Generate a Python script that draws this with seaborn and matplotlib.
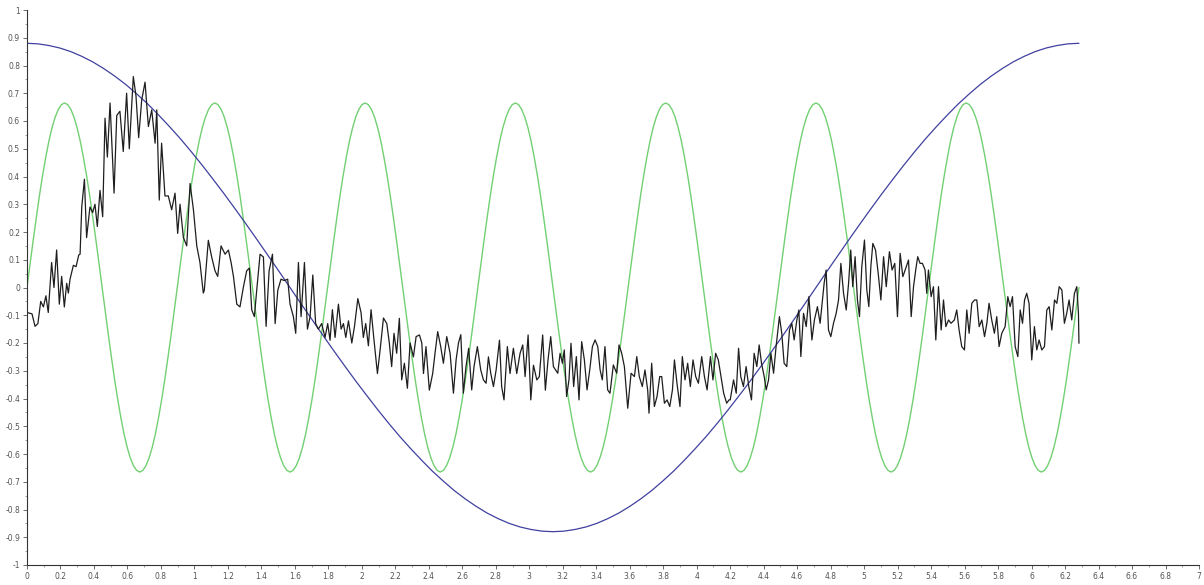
import numpy as np
import pandas as pd
import matplotlib
matplotlib.use("Agg")
import matplotlib.pyplot as plt
from matplotlib.ticker import MultipleLocator, FuncFormatter
import seaborn as sns

# ---------------- data ----------------
x_end = 6.283  # right end of all three curves

# blue curve, 97 samples evenly spaced from 0 to x_end
blue_y = [
    0.880, 0.878, 0.872, 0.863, 0.850, 0.833, 0.813, 0.789, 0.762, 0.732, 0.698, 0.662,
    0.622, 0.580, 0.536, 0.489, 0.440, 0.389, 0.337, 0.283, 0.228, 0.172, 0.115, 0.058, 0.0,
    -0.058, -0.115, -0.172, -0.228, -0.283, -0.337, -0.389, -0.440, -0.489, -0.536, -0.580, -0.622,
    -0.662, -0.698, -0.732, -0.762, -0.789, -0.813, -0.833, -0.850, -0.863, -0.872, -0.878, -0.880,
    -0.878, -0.872, -0.863, -0.850, -0.833, -0.813, -0.789, -0.762, -0.732, -0.698, -0.662, -0.622,
    -0.580, -0.536, -0.489, -0.440, -0.389, -0.337, -0.283, -0.228, -0.172, -0.115, -0.058, 0.0,
    0.058, 0.115, 0.172, 0.228, 0.283, 0.337, 0.389, 0.440, 0.489, 0.536, 0.580, 0.622,
    0.662, 0.698, 0.732, 0.762, 0.789, 0.813, 0.833, 0.850, 0.863, 0.872, 0.878, 0.880]

# green curve, 337 samples evenly spaced from 0 to x_end (7 peaks, 7 troughs)
green_y = [
    0, .087, .172, .254, .333, .405, .470, .528, .576, .614, .642, .659, .665, .659, .642, .614, .576, .528, .470, .405, .333, .254, .172, .087,
    0, -.087, -.172, -.254, -.333, -.405, -.470, -.528, -.576, -.614, -.642, -.659, -.665, -.659, -.642, -.614, -.576, -.528, -.470, -.405, -.333, -.254, -.172, -.087,
    0, .087, .172, .254, .333, .405, .470, .528, .576, .614, .642, .659, .665, .659, .642, .614, .576, .528, .470, .405, .333, .254, .172, .087,
    0, -.087, -.172, -.254, -.333, -.405, -.470, -.528, -.576, -.614, -.642, -.659, -.665, -.659, -.642, -.614, -.576, -.528, -.470, -.405, -.333, -.254, -.172, -.087,
    0, .087, .172, .254, .333, .405, .470, .528, .576, .614, .642, .659, .665, .659, .642, .614, .576, .528, .470, .405, .333, .254, .172, .087,
    0, -.087, -.172, -.254, -.333, -.405, -.470, -.528, -.576, -.614, -.642, -.659, -.665, -.659, -.642, -.614, -.576, -.528, -.470, -.405, -.333, -.254, -.172, -.087,
    0, .087, .172, .254, .333, .405, .470, .528, .576, .614, .642, .659, .665, .659, .642, .614, .576, .528, .470, .405, .333, .254, .172, .087,
    0, -.087, -.172, -.254, -.333, -.405, -.470, -.528, -.576, -.614, -.642, -.659, -.665, -.659, -.642, -.614, -.576, -.528, -.470, -.405, -.333, -.254, -.172, -.087,
    0, .087, .172, .254, .333, .405, .470, .528, .576, .614, .642, .659, .665, .659, .642, .614, .576, .528, .470, .405, .333, .254, .172, .087,
    0, -.087, -.172, -.254, -.333, -.405, -.470, -.528, -.576, -.614, -.642, -.659, -.665, -.659, -.642, -.614, -.576, -.528, -.470, -.405, -.333, -.254, -.172, -.087,
    0, .087, .172, .254, .333, .405, .470, .528, .576, .614, .642, .659, .665, .659, .642, .614, .576, .528, .470, .405, .333, .254, .172, .087,
    0, -.087, -.172, -.254, -.333, -.405, -.470, -.528, -.576, -.614, -.642, -.659, -.665, -.659, -.642, -.614, -.576, -.528, -.470, -.405, -.333, -.254, -.172, -.087,
    0, .087, .172, .254, .333, .405, .470, .528, .576, .614, .642, .659, .665, .659, .642, .614, .576, .528, .470, .405, .333, .254, .172, .087,
    0, -.087, -.172, -.254, -.333, -.405, -.470, -.528, -.576, -.614, -.642, -.659, -.665, -.659, -.642, -.614, -.576, -.528, -.470, -.405, -.333, -.254, -.172, -.087,
    0]

# black noisy curve, vertices (x, y)
black_x = [
    0.000, 0.030, 0.048, 0.065, 0.082, 0.098, 0.113, 0.127, 0.147, 0.161, 0.177, 0.193, 0.207, 0.223,
    0.237, 0.247, 0.257, 0.277, 0.293, 0.309, 0.317, 0.327, 0.343, 0.356, 0.376, 0.392, 0.406, 0.420,
    0.436, 0.452, 0.466, 0.480, 0.496, 0.520, 0.536, 0.555, 0.575, 0.595, 0.611, 0.635, 0.651, 0.667,
    0.685, 0.705, 0.725, 0.745, 0.765, 0.775, 0.790, 0.804, 0.824, 0.844, 0.864, 0.884, 0.900, 0.914,
    0.934, 0.954, 0.974, 0.994, 1.014, 1.033, 1.053,
    1.059, 1.083, 1.103, 1.123, 1.139, 1.159, 1.183, 1.203, 1.219, 1.233, 1.253, 1.272, 1.292, 1.312,
    1.328, 1.342, 1.358, 1.372, 1.392, 1.412, 1.428, 1.446, 1.466, 1.482, 1.498, 1.517, 1.537, 1.557,
    1.571, 1.591, 1.605, 1.621, 1.637, 1.657, 1.675, 1.691, 1.707, 1.724, 1.740, 1.760, 1.780, 1.796,
    1.810, 1.824, 1.840, 1.860, 1.876, 1.890, 1.904, 1.920, 1.940, 1.956, 1.976, 1.995, 2.009, 2.023,
    2.039, 2.055, 2.071, 2.089,
    2.093, 2.109, 2.129, 2.149, 2.164, 2.178, 2.192, 2.208, 2.224, 2.238, 2.254, 2.272, 2.288, 2.308,
    2.324, 2.344, 2.358, 2.368, 2.383, 2.403, 2.423, 2.437, 2.453, 2.471, 2.487, 2.507, 2.527, 2.547,
    2.563, 2.577, 2.591, 2.606, 2.622, 2.638, 2.656, 2.670, 2.690, 2.710, 2.726, 2.742, 2.756, 2.770,
    2.786, 2.802, 2.822, 2.835, 2.849, 2.869, 2.885, 2.905, 2.925, 2.945, 2.961, 2.975, 2.993, 3.009,
    3.025, 3.045, 3.060, 3.080, 3.096, 3.112, 3.128, 3.144,
    3.170, 3.184, 3.198, 3.209, 3.223, 3.237, 3.249, 3.265, 3.281, 3.297, 3.313, 3.329, 3.345, 3.361,
    3.377, 3.393, 3.409, 3.423, 3.436, 3.452, 3.468, 3.482, 3.502, 3.522, 3.536, 3.552, 3.568, 3.588,
    3.608, 3.628, 3.642, 3.657, 3.675, 3.691, 3.707, 3.715, 3.731, 3.747, 3.763, 3.779, 3.791, 3.807,
    3.823, 3.839, 3.855, 3.867, 3.882, 3.900, 3.914, 3.930, 3.946, 3.962, 3.978, 3.994, 4.010, 4.030,
    4.046, 4.062, 4.082, 4.097, 4.113, 4.129, 4.145, 4.161, 4.179, 4.193,
    4.200, 4.220, 4.236, 4.250, 4.263, 4.279, 4.295, 4.311, 4.327, 4.343, 4.359, 4.373, 4.387, 4.403,
    4.415, 4.429, 4.443, 4.459, 4.474, 4.494, 4.508, 4.522, 4.538, 4.554, 4.568, 4.582, 4.598, 4.610,
    4.622, 4.638, 4.654, 4.670, 4.688, 4.703, 4.721, 4.737, 4.749, 4.761, 4.773, 4.787, 4.801, 4.817,
    4.833, 4.847, 4.861, 4.877, 4.893, 4.907, 4.920, 4.932, 4.946, 4.960, 4.972, 4.986, 5.002, 5.016,
    5.028, 5.040, 5.052, 5.068, 5.084, 5.100, 5.116, 5.132, 5.151, 5.167, 5.183, 5.199, 5.215, 5.231,
    5.245, 5.265, 5.281, 5.295, 5.308, 5.320, 5.334, 5.348, 5.364, 5.374, 5.384, 5.400, 5.414, 5.428,
    5.444, 5.460, 5.474, 5.488, 5.504, 5.519, 5.539, 5.553, 5.567, 5.583, 5.599, 5.613, 5.627, 5.643,
    5.659, 5.673, 5.687, 5.703, 5.719, 5.733, 5.746, 5.762, 5.778, 5.792, 5.806, 5.822, 5.842, 5.858,
    5.872, 5.886, 5.902, 5.918, 5.932, 5.946, 5.958, 5.971, 5.985, 6.001, 6.017, 6.031, 6.045, 6.061,
    6.077, 6.091, 6.105, 6.121, 6.137, 6.151, 6.165, 6.181, 6.196, 6.210, 6.224, 6.240, 6.256, 6.270,
    6.280, 6.283]

black_y = [
    -0.09, -0.095, -0.14, -0.13, -0.05, -0.07, -0.03, -0.09, 0.09, 0.00, 0.135, -0.06, 0.04, -0.07,
    0.015, -0.02, 0.03, 0.08, 0.075, 0.117, 0.12, 0.29, 0.39, 0.18, 0.29, 0.27, 0.30, 0.22,
    0.35, 0.255, 0.61, 0.47, 0.665, 0.34, 0.62, 0.635, 0.49, 0.70, 0.50, 0.76, 0.69, 0.54,
    0.675, 0.74, 0.58, 0.64, 0.52, 0.64, 0.315, 0.52, 0.33, 0.33, 0.28, 0.34, 0.195, 0.30,
    0.18, 0.15, 0.375, 0.28, 0.15, 0.09, -0.02,
    -0.01, 0.17, 0.11, 0.06, 0.04, 0.15, 0.12, 0.135, 0.09, 0.04, -0.06, -0.07, 0.00, 0.06,
    0.07, -0.08, -0.105, -0.01, 0.12, 0.11, -0.14, 0.06, 0.12, -0.13, -0.01, 0.03, 0.025, 0.03,
    -0.06, -0.105, -0.165, 0.09, -0.105, 0.09, -0.15, -0.105, 0.045, -0.13, -0.15, -0.13, -0.18, -0.13,
    -0.19, -0.08, -0.18, -0.06, -0.15, -0.13, -0.18, -0.12, -0.20, -0.14, -0.04, -0.09, -0.18, -0.13,
    -0.21, -0.08, -0.18, -0.285,
    -0.31, -0.225, -0.11, -0.13, -0.20, -0.285, -0.165, -0.237, -0.111, -0.333, -0.273, -0.363, -0.20, -0.25,
    -0.177, -0.171, -0.20, -0.31, -0.213, -0.37, -0.31, -0.237, -0.159, -0.213, -0.273, -0.177, -0.237, -0.381,
    -0.26, -0.20, -0.17, -0.381, -0.285, -0.219, -0.369, -0.285, -0.213, -0.297, -0.333, -0.345, -0.25, -0.31,
    -0.357, -0.297, -0.19, -0.357, -0.405, -0.213, -0.31, -0.219, -0.31, -0.237, -0.207, -0.321, -0.171, -0.405,
    -0.28, -0.333, -0.321, -0.171, -0.37, -0.26, -0.177, -0.285,
    -0.309, -0.237, -0.273, -0.225, -0.393, -0.333, -0.201, -0.357, -0.249, -0.405, -0.195, -0.261, -0.369, -0.297,
    -0.213, -0.189, -0.213, -0.297, -0.333, -0.213, -0.369, -0.381, -0.279, -0.309, -0.207, -0.237, -0.285, -0.435,
    -0.309, -0.321, -0.249, -0.321, -0.357, -0.297, -0.369, -0.453, -0.273, -0.429, -0.393, -0.321, -0.321, -0.417,
    -0.405, -0.429, -0.369, -0.261, -0.345, -0.429, -0.249, -0.333, -0.273, -0.357, -0.261, -0.321, -0.345, -0.249,
    -0.321, -0.369, -0.249, -0.333, -0.237, -0.261, -0.321, -0.381, -0.417, -0.405,
    -0.405, -0.333, -0.381, -0.219, -0.321, -0.357, -0.285, -0.357, -0.405, -0.237, -0.285, -0.207, -0.273, -0.321,
    -0.369, -0.333, -0.237, -0.309, -0.213, -0.105, -0.165, -0.273, -0.285, -0.153, -0.129, -0.189, -0.117, -0.081,
    -0.249, -0.093, -0.141, -0.033, -0.189, -0.117, -0.069, -0.129, -0.057, 0.015, 0.063, -0.153, -0.177, -0.129,
    -0.093, -0.045, 0.087, -0.021, -0.081, 0.015, 0.135, 0.003, 0.111, -0.045, -0.105, 0.075, 0.171, -0.009,
    -0.069, 0.075, 0.159, 0.135, 0.051, -0.045, 0.111, 0.003, 0.129, 0.063, 0.087, -0.105, 0.123, 0.039,
    0.063, 0.099, -0.105, 0.003, 0.063, 0.111, 0.087, 0.087, 0.063, -0.021, 0.063, -0.033, 0.003, -0.189,
    0.003, -0.153, -0.045, -0.141, -0.117, -0.129, -0.117, -0.081, -0.153, -0.213, -0.225, -0.081, -0.165, -0.057,
    -0.045, -0.045, -0.141, -0.117, -0.177, -0.129, -0.057, -0.117, -0.165, -0.105, -0.213, -0.165, -0.141, -0.033,
    -0.069, -0.033, -0.213, -0.249, -0.081, -0.129, -0.045, -0.021, -0.057, -0.261, -0.141, -0.225, -0.189, -0.225,
    -0.213, -0.081, -0.069, -0.153, -0.045, -0.057, 0.003, -0.009, -0.129, -0.093, -0.045, -0.117, -0.021, 0.003,
    -0.093, -0.201]

# ---------------- figure ----------------
sns.set_theme(style="ticks")
plt.rcParams['font.family'] = ['DejaVu Sans']

fig = plt.figure(figsize=(12.04, 5.85), dpi=100)
ax = fig.add_axes([27 / 1204, 20 / 585, (1199 - 27) / 1204, (565 - 10) / 585])

blue_df = pd.DataFrame({"x": np.linspace(0, x_end, len(blue_y)), "y": blue_y})
green_df = pd.DataFrame({"x": np.linspace(0, x_end, len(green_y)), "y": green_y})
black_df = pd.DataFrame({"x": black_x, "y": black_y})

sns.lineplot(data=green_df, x="x", y="y", ax=ax, color="#72d072", linewidth=1.0,
             sort=False, estimator=None)
sns.lineplot(data=blue_df, x="x", y="y", ax=ax, color="#4040a0", linewidth=0.9,
             sort=False, estimator=None)
sns.lineplot(data=black_df, x="x", y="y", ax=ax, color="#1e1e1e", linewidth=0.9,
             sort=False, estimator=None)

ax.set_xlim(0, 7)
ax.set_ylim(-1, 1)
ax.set_xlabel("")
ax.set_ylabel("")

ax.xaxis.set_major_locator(MultipleLocator(0.2))
ax.xaxis.set_minor_locator(MultipleLocator(0.1))
ax.yaxis.set_major_locator(MultipleLocator(0.1))
ax.yaxis.set_minor_locator(MultipleLocator(0.05))


def fmt(v, pos):
    s = f"{v:.1f}"
    if s.endswith(".0"):
        s = s[:-2]
    if s == "-0":
        s = "0"
    return s


ax.xaxis.set_major_formatter(FuncFormatter(fmt))
ax.yaxis.set_major_formatter(FuncFormatter(fmt))

ax.tick_params(axis="both", which="major", direction="out", length=3, width=0.6,
               labelsize=5.5, labelcolor="#555555", color="#555555", pad=2)
ax.tick_params(axis="both", which="minor", direction="out", length=1.5, width=0.5,
               color="#777777")

for side in ["top", "right"]:
    ax.spines[side].set_visible(False)
for side in ["left", "bottom"]:
    ax.spines[side].set_linewidth(0.8)
    ax.spines[side].set_color("#333333")

fig.savefig("out.png", dpi=100)
